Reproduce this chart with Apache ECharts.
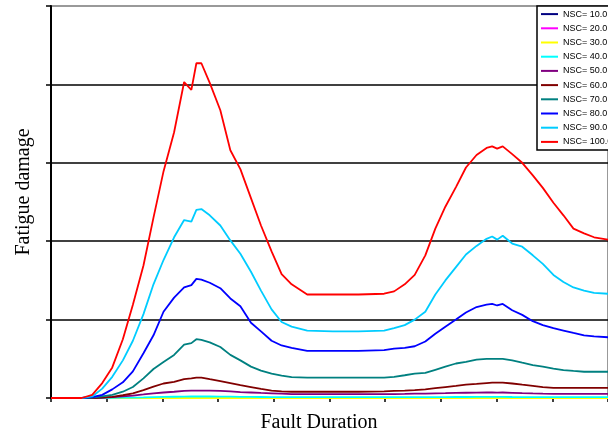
<!DOCTYPE html>
<html>
<head>
<meta charset="utf-8">
<script src="https://cdn.jsdelivr.net/npm/echarts@6/dist/echarts.min.js"></script>
<style>
html,body{margin:0;padding:0;background:#fff;}
#chart{width:608px;height:436px;}
</style>
</head>
<body>
<div id="chart"></div>
<script>
// Shared x positions (fault duration, axis units; one tick = 10)
const xPos = [0, 5.5, 7.4, 9.2, 11.0, 12.9, 14.7, 16.6, 18.4, 20.2,
  22.1, 23.9, 25.2, 26.1, 27.0, 28.5, 30.4, 32.2, 34.0, 35.9,
  37.7, 39.6, 41.4, 43.2, 46.0, 50.6, 55.2, 59.8, 61.6, 63.5,
  65.3, 67.2, 69.0, 70.8, 72.7, 74.5, 76.4, 78.2, 79.2, 80.1,
  81.1, 82.8, 84.6, 86.5, 88.3, 90.2, 92.0, 93.8, 95.7, 97.5, 100];

const seriesNames = ['NSC= 10.0','NSC= 20.0','NSC= 30.0','NSC= 40.0','NSC= 50.0',
  'NSC= 60.0','NSC= 70.0','NSC= 80.0','NSC= 90.0','NSC= 100.0'];

const nsc10 = [0,0,0,0,0,0,0,0,0,0, 0,0,0,0,0,0,0,0,0,0, 0,0,0,0,0,0,0,0,0,0, 0,0,0,0,0,0,0,0,0,0, 0,0,0,0,0,0,0,0,0,0,0];
const nsc20 = [0,0,0,0,0,0,0,0,0,0, 0,0,0,0,0,0,0,0,0,0, 0,0,0,0,0,0,0,0,0,0, 0,0,0,0,0,0,0,0,0,0, 0,0,0,0,0,0,0,0,0,0,0];
const nsc30 = [0,0,0,0,0,0,0,0,0,0, 0,0,0,0,0,0,0,0,0,0, 0,0,0,0,0,0,0,0,0,0, 0,0,0,0,0,0,0,0,0,0, 0,0,0,0,0,0,0,0,0,0,0];
const nsc40 = [0,0,0,0,0.002,0.004,0.006,0.009,0.012,0.014,
  0.016,0.018,0.019,0.019,0.019,0.019,0.018,0.017,0.015,0.014,
  0.013,0.012,0.011,0.01,0.01,0.01,0.01,0.01,0.01,0.01,
  0.011,0.011,0.012,0.012,0.013,0.013,0.014,0.014,0.014,0.014,
  0.014,0.013,0.012,0.012,0.011,0.011,0.01,0.01,0.01,0.01,0.01];
const nsc50 = [0,0,0,0.005,0.01,0.02,0.03,0.045,0.06,0.07,
  0.08,0.09,0.093,0.093,0.093,0.093,0.09,0.085,0.075,0.07,
  0.065,0.06,0.055,0.05,0.05,0.05,0.05,0.05,0.05,0.052,
  0.055,0.057,0.06,0.062,0.065,0.067,0.068,0.07,0.07,0.068,
  0.07,0.066,0.062,0.058,0.055,0.053,0.052,0.052,0.052,0.052,0.052];
const nsc60 = [0,0,0,0.005,0.015,0.035,0.06,0.10,0.145,0.185,
  0.205,0.24,0.25,0.26,0.26,0.24,0.215,0.19,0.165,0.14,
  0.115,0.095,0.085,0.08,0.08,0.08,0.08,0.085,0.09,0.095,
  0.10,0.11,0.125,0.14,0.155,0.17,0.18,0.19,0.195,0.195,
  0.195,0.185,0.17,0.155,0.14,0.13,0.13,0.13,0.13,0.13,0.13];
const nsc70 = [0,0,0.005,0.02,0.04,0.08,0.14,0.25,0.37,0.46,
  0.55,0.68,0.70,0.75,0.74,0.71,0.65,0.55,0.48,0.40,
  0.35,0.31,0.285,0.265,0.26,0.26,0.26,0.26,0.27,0.29,
  0.31,0.32,0.36,0.40,0.44,0.46,0.49,0.50,0.50,0.50,
  0.50,0.48,0.45,0.42,0.40,0.375,0.355,0.345,0.335,0.335,0.335];
const nsc80 = [0,0,0.01,0.04,0.11,0.20,0.34,0.57,0.80,1.10,
  1.28,1.41,1.44,1.52,1.51,1.47,1.40,1.27,1.17,0.96,
  0.85,0.73,0.67,0.64,0.60,0.60,0.60,0.61,0.63,0.64,
  0.66,0.72,0.82,0.91,1.00,1.09,1.16,1.19,1.20,1.18,
  1.20,1.12,1.06,0.98,0.93,0.89,0.86,0.83,0.80,0.785,0.775];
const nsc90 = [0,0,0.02,0.12,0.27,0.48,0.73,1.07,1.45,1.76,
  2.05,2.27,2.25,2.40,2.41,2.33,2.20,2.01,1.84,1.61,
  1.37,1.13,0.97,0.91,0.86,0.85,0.85,0.86,0.89,0.93,
  1.00,1.10,1.32,1.50,1.67,1.83,1.94,2.03,2.06,2.02,
  2.07,1.97,1.93,1.82,1.71,1.57,1.48,1.41,1.37,1.34,1.33];
const nsc100 = [0,0,0.04,0.19,0.39,0.75,1.19,1.69,2.30,2.89,
  3.39,4.03,3.93,4.27,4.27,4.02,3.67,3.16,2.92,2.55,
  2.20,1.87,1.58,1.45,1.32,1.32,1.32,1.33,1.36,1.45,
  1.57,1.82,2.16,2.44,2.69,2.94,3.10,3.19,3.21,3.18,
  3.21,3.11,3.00,2.84,2.68,2.49,2.33,2.16,2.10,2.05,2.02];

const seriesValues = [nsc10, nsc20, nsc30, nsc40, nsc50, nsc60, nsc70, nsc80, nsc90, nsc100];
const seriesColors = ['#000080','#FF00FF','#FFFF00','#00FFFF','#800080',
  '#800000','#008080','#0000FF','#00CCFF','#FF0000'];

const chart = echarts.init(document.getElementById('chart'), null, {renderer: 'canvas'});

const series = seriesNames.map((name, i) => ({
  name: name,
  type: 'line',
  symbol: 'none',
  data: xPos.map((x, j) => [x, seriesValues[i][j]]),
  lineStyle: {color: seriesColors[i], width: 1.8},
  itemStyle: {color: seriesColors[i]},
  emphasis: {disabled: true}
}));

chart.setOption({
  animation: false,
  backgroundColor: '#ffffff',
  grid: {left: 51, top: 6, right: -6, bottom: 38, show: true, borderColor: '#999999', borderWidth: 2, backgroundColor: 'transparent'},
  xAxis: {
    type: 'value', min: 0, max: 100, interval: 10,
    axisLine: {show: true, onZero: false, lineStyle: {color: '#000', width: 2}},
    axisTick: {show: true, length: 4, lineStyle: {color: '#000', width: 1.5}},
    axisLabel: {show: false},
    splitLine: {show: false}
  },
  yAxis: {
    type: 'value', min: 0, max: 5, interval: 1,
    axisLine: {show: true, lineStyle: {color: '#000', width: 2}},
    axisTick: {show: true, length: 5, lineStyle: {color: '#000', width: 1.5}},
    axisLabel: {show: false},
    splitLine: {show: true, showMaxLine: false, lineStyle: {color: '#000', width: 1.5}}
  },
  legend: {
    orient: 'vertical', left: 537, top: 6,
    padding: [1, 4, 1, 4], itemGap: 0, itemWidth: 17, itemHeight: 2, icon: 'rect',
    backgroundColor: '#ffffff', borderColor: '#000', borderWidth: 1.5, borderRadius: 0,
    textStyle: {fontFamily: 'Liberation Sans', fontSize: 9, color: '#000', lineHeight: 14.2},
    data: seriesNames
  },
  graphic: [
    {type: 'text', x: 24, y: 192, rotation: Math.PI / 2,
     style: {text: 'Fatigue damage', font: '20px "Liberation Serif"', fill: '#000',
             align: 'center', verticalAlign: 'middle', textAlign: 'center', textVerticalAlign: 'middle'}},
    {type: 'text', x: 319, y: 423,
     style: {text: 'Fault Duration', font: '20px "Liberation Serif"', fill: '#000',
             align: 'center', verticalAlign: 'middle', textAlign: 'center', textVerticalAlign: 'middle'}}
  ],
  series: series
});
</script>
</body>
</html>
